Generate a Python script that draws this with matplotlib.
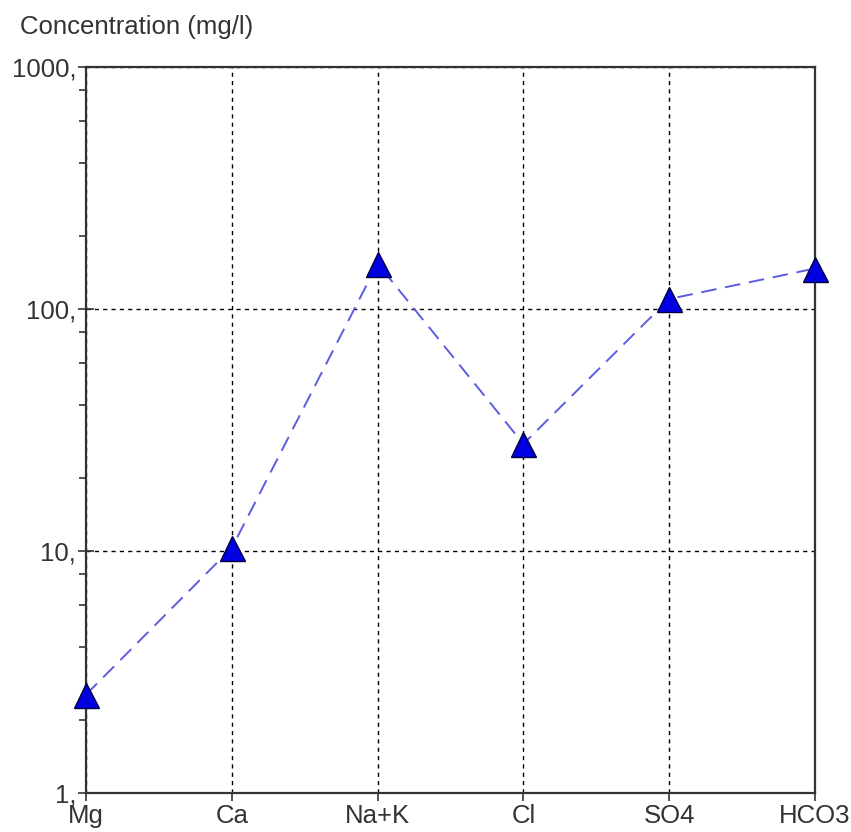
import numpy as np
import matplotlib
matplotlib.use("Agg")
import matplotlib.pyplot as plt
from matplotlib.ticker import FixedLocator, FixedFormatter, NullFormatter

plt.rcParams['font.family'] = ['Liberation Sans', 'DejaVu Sans']

ions = ['Mg', 'Ca', 'Na+K', 'Cl', 'SO4', 'HCO3']
conc = [2.55, 10.3, 154, 27.7, 110, 147]
y_ticks = [1, 10, 100, 1000]
y_labels = ['1,', '10,', '100,', '1000,']

fig = plt.figure(figsize=(8.51, 8.32), dpi=100)
ax = fig.add_axes([86 / 851, 39 / 832, 729 / 851, 726 / 832])

x = np.arange(len(ions))
ax.plot(x, conc, color='#5c5ce0', lw=1.4, dashes=(8, 4.5), zorder=3)
ax.plot(x, conc, ls='none', marker='^', markersize=18, markerfacecolor='#0000e0',
        markeredgecolor='#000040', markeredgewidth=1.0, zorder=4, clip_on=False)

ax.set_yscale('log')
ax.set_ylim(1, 1000)
ax.set_xlim(0, len(ions) - 1)

ax.yaxis.set_major_locator(FixedLocator(y_ticks))
ax.yaxis.set_major_formatter(FixedFormatter(y_labels))
minor = [m * 10 ** e for e in range(3) for m in (2, 4, 6, 8)]
ax.yaxis.set_minor_locator(FixedLocator(minor))
ax.yaxis.set_minor_formatter(NullFormatter())

ax.set_xticks(x)
ax.set_xticklabels(ions)

ax.grid(True, which='major', color='black', lw=1.0, linestyle=(0, (3, 3)))
ax.set_axisbelow(True)

ax.tick_params(axis='y', which='major', direction='inout', length=12, width=1.2,
               labelsize=18.5, pad=1, colors='#333333', labelcolor='#333333')
ax.tick_params(axis='y', which='minor', direction='out', length=5, width=1.2, colors='#333333')
ax.tick_params(axis='x', which='major', direction='out', length=6, width=1.2,
               labelsize=18.5, pad=2, colors='#333333', labelcolor='#333333')
ax.tick_params(top=False, right=False)

for s in ax.spines.values():
    s.set_linewidth(1.6)
    s.set_color('#333333')

fig.text(20 / 851, 1 - 27 / 832, 'Concentration (mg/l)', fontsize=18.5,
         color='#333333', va='center', ha='left')

fig.savefig('out.png', dpi=100, facecolor='white')
